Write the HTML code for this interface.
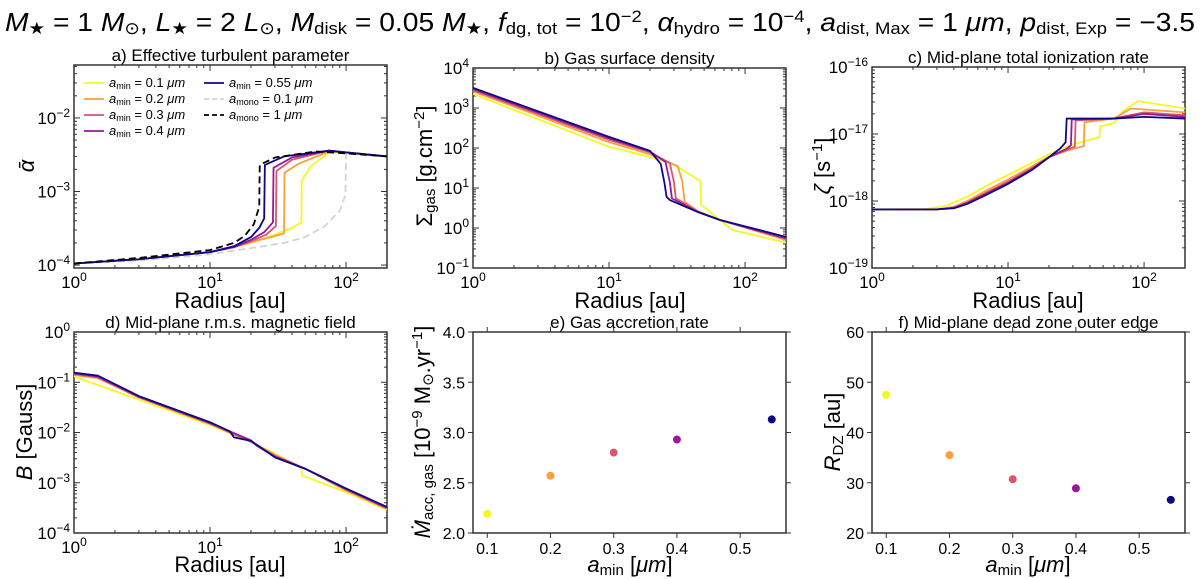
<!DOCTYPE html>
<html><head><meta charset="utf-8">
<style>
html,body{margin:0;padding:0;background:#fff;}
svg{display:block;font-family:"Liberation Sans","DejaVu Sans",sans-serif;}
</style></head>
<body>
<svg id="fig" width="1200" height="579" viewBox="0 0 1200 579" xmlns="http://www.w3.org/2000/svg">
<text x="5" y="31" font-size="26" textLength="1190" lengthAdjust="spacingAndGlyphs"><tspan font-style="italic">M</tspan><tspan font-size="17" baseline-shift="-20%">★</tspan> = 1 <tspan font-style="italic">M</tspan><tspan font-size="17" baseline-shift="-20%">⊙</tspan>, <tspan font-style="italic">L</tspan><tspan font-size="17" baseline-shift="-20%">★</tspan> = 2 <tspan font-style="italic">L</tspan><tspan font-size="17" baseline-shift="-20%">⊙</tspan>, <tspan font-style="italic">M</tspan><tspan font-size="17" baseline-shift="-20%">disk</tspan> = 0.05 <tspan font-style="italic">M</tspan><tspan font-size="17" baseline-shift="-20%">★</tspan>, <tspan font-style="italic">f</tspan><tspan font-size="17" baseline-shift="-20%">dg, tot</tspan> = 10<tspan font-size="17" baseline-shift="super">−2</tspan>, <tspan font-style="italic">α</tspan><tspan font-size="17" baseline-shift="-20%">hydro</tspan> = 10<tspan font-size="17" baseline-shift="super">−4</tspan>, <tspan font-style="italic">a</tspan><tspan font-size="17" baseline-shift="-20%">dist, Max</tspan> = 1 <tspan font-style="italic">μm</tspan>, <tspan font-style="italic">p</tspan><tspan font-size="17" baseline-shift="-20%">dist, Exp</tspan> = −3.5</text>
</svg>
<script>
// ---------- data ----------
const seriesNames = ['amin-0.1','amin-0.2','amin-0.3','amin-0.4','amin-0.55'];
const seriesColors = ['#f0f921','#fb9f3a','#d8576b','#9c179e','#0d0887'];
const aminValues = [0.1, 0.2, 0.3, 0.4, 0.55];
const accretionRate = [2.19, 2.57, 2.80, 2.93, 3.13];
const deadZoneEdge = [47.5, 35.5, 30.7, 28.9, 26.6];

// panel a: alpha
const alphaR01 = [1,3,10,15,20,30,40,47,47.2,55,75,100,200];
const alphaV01 = [1.05e-4,1.2e-4,1.5e-4,1.75e-4,2e-4,2.6e-4,3.2e-4,3.8e-4,1.4e-3,2.2e-3,3.4e-3,3.4e-3,3.0e-3];
const alphaR02 = [1,3,10,15,20,28,35,35.3,45,75,100,200];
const alphaV02 = [1.05e-4,1.2e-4,1.5e-4,1.75e-4,2.05e-4,2.4e-4,2.7e-4,1.8e-3,2.4e-3,3.5e-3,3.4e-3,3.0e-3];
const alphaR03 = [1,3,10,15,20,26,30.5,30.8,40,75,100,200];
const alphaV03 = [1.05e-4,1.2e-4,1.5e-4,1.75e-4,2.1e-4,2.6e-4,3.4e-4,1.9e-3,2.7e-3,3.6e-3,3.4e-3,3.0e-3];
const alphaR04 = [1,3,10,15,20,25,29,29.3,40,75,100,200];
const alphaV04 = [1.05e-4,1.2e-4,1.5e-4,1.75e-4,2.2e-4,2.8e-4,3.8e-4,2.1e-3,2.9e-3,3.6e-3,3.4e-3,3.0e-3];
const alphaR055 = [1,3,10,15,20,23,25,25.3,35,75,100,200];
const alphaV055 = [1.05e-4,1.2e-4,1.5e-4,1.8e-4,2.4e-4,3.2e-4,4.3e-4,2.3e-3,3.0e-3,3.6e-3,3.4e-3,3.0e-3];
const alphaRMono1 = [1,3,10,15,18,21,23,23.2,30,60,100,200];
const alphaVMono1 = [1.05e-4,1.25e-4,1.6e-4,2.0e-4,2.5e-4,3.6e-4,6.2e-4,2.3e-3,2.9e-3,3.5e-3,3.3e-3,3.0e-3];
const alphaRMono01 = [1,3,10,20,35,50,70,90,99,100,200];
const alphaVMono01 = [1.05e-4,1.15e-4,1.4e-4,1.7e-4,2.0e-4,2.4e-4,3.4e-4,5.5e-4,9e-4,3.3e-3,3.0e-3];

// panel b: gas surface density
const sigR01 = [1,10,20,30,47,47.5,65,80,200];
const sigV01 = [2240,107,60,38,15,3.8,1.6,0.9,0.43];
const sigR02 = [1,10,20,32,34.5,36,45,65,200];
const sigV02 = [2600,140,70,35,15,4.5,2.6,1.6,0.5];
const sigR03 = [1,10,20,28,30,31,45,65,200];
const sigV03 = [2800,160,78,42,14,5.5,2.6,1.6,0.53];
const sigR04 = [1,10,20,26,28,29,45,65,200];
const sigV04 = [3000,175,82,45,14,5.5,2.5,1.6,0.56];
const sigR055 = [1,10,20,24,25.5,26.5,28,45,65,200];
const sigV055 = [3200,190,85,40,14,6,5,2.5,1.6,0.6];

// panel c: ionization rate
const zetaR01 = [1,2.5,3.5,5,7,10,15,20,30,47,47.5,60,70,90,200];
const zetaV01 = [7.5e-19,7.6e-19,8.5e-19,1.15e-18,1.7e-18,2.45e-18,3.7e-18,5e-18,7e-18,9e-18,1.3e-17,1.45e-17,2.2e-17,3.1e-17,2.4e-17];
const zetaR02 = [1,3,4,5,7,10,15,20,30,36,36.5,60,80,200];
const zetaV02 = [7.5e-19,7.5e-19,8.2e-19,1.0e-18,1.45e-18,2.1e-18,3.3e-18,4.6e-18,6e-18,6.6e-18,1.5e-17,1.7e-17,2.4e-17,2.1e-17];
const zetaR03 = [1,3,4,5,7,10,15,20,28,31,31.4,60,100,200];
const zetaV03 = [7.5e-19,7.5e-19,8e-19,9.5e-19,1.35e-18,1.95e-18,3.1e-18,4.5e-18,6e-18,6.5e-18,1.6e-17,1.7e-17,2.1e-17,1.9e-17];
const zetaR04 = [1,3,4,5,7,10,15,20,27,29,29.4,60,100,200];
const zetaV04 = [7.5e-19,7.5e-19,7.9e-19,9.3e-19,1.3e-18,1.85e-18,3.0e-18,4.5e-18,6e-18,6.8e-18,1.65e-17,1.7e-17,2.0e-17,1.8e-17];
const zetaR055 = [1,3,4,5,7,10,15,20,24,26.5,27,60,100,200];
const zetaV055 = [7.5e-19,7.5e-19,7.8e-19,9e-19,1.25e-18,1.8e-18,2.9e-18,4.5e-18,6e-18,7.5e-18,1.7e-17,1.7e-17,1.8e-17,1.7e-17];

// panel d: magnetic field
const bR01 = [1,3,10,20,30,47,47.5,100,200];
const bV01 = [0.13,0.045,0.014,0.0065,0.0038,0.002,0.0014,6.5e-4,2.9e-4];
const bR02 = [1,1.5,3,10,20,30,50,100,200];
const bV02 = [0.14,0.12,0.05,0.015,0.0065,0.0036,0.0019,7e-4,3.0e-4];
const bR03 = [1,1.5,3,10,20,30,50,100,200];
const bV03 = [0.145,0.125,0.05,0.015,0.0066,0.0034,0.0019,7.3e-4,3.1e-4];
const bR04 = [1,1.5,3,10,20,22,30,50,100,200];
const bV04 = [0.15,0.13,0.052,0.0155,0.007,0.0055,0.0033,0.0019,7.5e-4,3.2e-4];
const bR055 = [1,1.5,3,10,14,15,20,25,30,50,100,200];
const bV055 = [0.155,0.135,0.053,0.016,0.0105,0.008,0.0068,0.0045,0.0032,0.0019,7.7e-4,3.3e-4];

// ---------- helpers ----------
const NS = 'http://www.w3.org/2000/svg';
const svg = document.getElementById('fig');
function mk(tag, attrs, parent){
  const e = document.createElementNS(NS, tag);
  for (const k in attrs) e.setAttribute(k, attrs[k]);
  (parent || svg).appendChild(e);
  return e;
}
function makeAxis(p){
  const fx = p.xLog
    ? v => p.x0 + (Math.log10(v) - Math.log10(p.xmin)) / (Math.log10(p.xmax) - Math.log10(p.xmin)) * (p.x1 - p.x0)
    : v => p.x0 + (v - p.xmin) / (p.xmax - p.xmin) * (p.x1 - p.x0);
  const fy = p.yLog
    ? v => p.y1 - (Math.log10(v) - Math.log10(p.ymin)) / (Math.log10(p.ymax) - Math.log10(p.ymin)) * (p.y1 - p.y0)
    : v => p.y1 - (v - p.ymin) / (p.ymax - p.ymin) * (p.y1 - p.y0);
  return {fx, fy};
}
function supLabel(g, x, y, exp, anchor){
  const t = mk('text', {x:x, y:y, 'font-size':17, 'text-anchor':anchor, fill:'#000'}, g);
  
  
  t.appendChild(document.createTextNode('10'));
  const s = mk('tspan', {'font-size':12, 'baseline-shift':'super'}, t);
  s.textContent = (exp < 0 ? '−' : '') + Math.abs(exp);
  return t;
}
function drawFrame(p, name){
  const g = mk('g', {});
  
  
  const ax = makeAxis(p);
  const tick = (x1,y1,x2,y2)=>{ mk('line',{x1,y1,x2,y2,stroke:'#333','stroke-width':1},g); };
  if (p.xLog){
    for (let d = Math.floor(Math.log10(p.xmin)); d <= Math.ceil(Math.log10(p.xmax)); d++){
      for (let m = 1; m < 10; m++){
        const v = m * Math.pow(10, d);
        if (v < p.xmin - 1e-9 || v > p.xmax + 1e-9) continue;
        const x = ax.fx(v), L = m === 1 ? 6 : 3;
        tick(x, p.y1, x, p.y1 - L); tick(x, p.y0, x, p.y0 + L);
        if (m === 1) supLabel(g, x, p.y1 + 20, d, 'middle');
      }
    }
  } else {
    p.xTicks.forEach(v => {
      const x = ax.fx(v);
      tick(x, p.y1, x, p.y1 + 5); tick(x, p.y0, x, p.y0 - 5);
      const t = mk('text', {x:x, y:p.y1 + 21, 'font-size':16, 'text-anchor':'middle'}, g);
      
      
      t.textContent = v.toFixed(1);
    });
  }
  if (p.yLog){
    for (let d = Math.floor(Math.log10(p.ymin)); d <= Math.ceil(Math.log10(p.ymax)); d++){
      for (let m = 1; m < 10; m++){
        const v = m * Math.pow(10, d);
        if (v < p.ymin * 0.999 || v > p.ymax * 1.001) continue;
        const y = ax.fy(v), L = m === 1 ? 6 : 3;
        tick(p.x0, y, p.x0 + L, y); tick(p.x1, y, p.x1 - L, y);
        if (m === 1) supLabel(g, p.x0 - 4, y + 6, d, 'end');
      }
    }
  } else {
    p.yTicks.forEach(v => {
      const y = ax.fy(v);
      tick(p.x0, y, p.x0 - 5, y); tick(p.x1, y, p.x1 + 5, y);
      const t = mk('text', {x:p.x0 - 8, y:y + 6, 'font-size':16, 'text-anchor':'end'}, g);
      
      
      t.textContent = p.yFmt(v);
    });
  }
  const r = mk('rect', {x:p.x0, y:p.y0, width:p.x1 - p.x0, height:p.y1 - p.y0, fill:'none', stroke:'#333', 'stroke-width':1.5}, g);
  
  
  const tt = mk('text', {x:(p.x0 + p.x1) / 2, y:p.y0 - 4, 'font-size':17, 'text-anchor':'middle'}, g);
  
  
  tt.textContent = p.title;
  return {g, ax};
}
function drawLine(p, ax, g, R, V, color, dash, name){
  let d = '';
  R.forEach((r, i) => { d += (i ? 'L' : 'M') + ax.fx(r).toFixed(2) + ',' + ax.fy(V[i]).toFixed(2); });
  const path = mk('path', {d, fill:'none', stroke:color, 'stroke-width':1.8, 'stroke-linejoin':'round', 'clip-path':'url(#clip-' + p.id + ')'}, g);
  if (dash) path.setAttribute('stroke-dasharray', dash);
  
  
}
function addClip(p){
  let defs = svg.querySelector('defs') || mk('defs', {});
  const c = mk('clipPath', {id:'clip-' + p.id}, defs);
  mk('rect', {x:p.x0, y:p.y0, width:p.x1 - p.x0, height:p.y1 - p.y0}, c);
}
function yLabel(x, y, parts, name){
  const t = mk('text', {x:0, y:0, 'font-size':22, 'text-anchor':'middle', transform:'translate(' + x + ',' + y + ') rotate(-90)'});
  
  
  parts.forEach(pt => {
    const s = mk('tspan', {}, t);
    if (pt.it) s.setAttribute('font-style', 'italic');
    if (pt.sub){ s.setAttribute('font-size', 15); s.setAttribute('baseline-shift', '-20%'); }
    if (pt.sup){ s.setAttribute('font-size', 15); s.setAttribute('baseline-shift', 'super'); }
    s.textContent = pt.t;
  });
}
function xLabel(x, y, parts, name){
  const t = mk('text', {x:x, y:y, 'font-size':22, 'text-anchor':'middle'});
  
  
  parts.forEach(pt => {
    const s = mk('tspan', {}, t);
    if (pt.it) s.setAttribute('font-style', 'italic');
    if (pt.sub){ s.setAttribute('font-size', 15); s.setAttribute('baseline-shift', '-20%'); }
    s.textContent = pt.t;
  });
}

// ---------- panels ----------
const logX = {xLog:true, xmin:1, xmax:200};
const pa = Object.assign({id:'a', x0:74, x1:387, y0:65, y1:268, yLog:true, ymin:Math.pow(10,-4.04), ymax:Math.pow(10,-1.28), title:'a) Effective turbulent parameter'}, logX);
const pb = Object.assign({id:'b', x0:473, x1:786, y0:68, y1:268, yLog:true, ymin:0.1, ymax:1e4, title:'b) Gas surface density'}, logX);
const pc = Object.assign({id:'c', x0:872, x1:1185, y0:67, y1:268, yLog:true, ymin:1e-19, ymax:1e-16, title:'c) Mid-plane total ionization rate'}, logX);
const pd = Object.assign({id:'d', x0:74, x1:387, y0:332, y1:533, yLog:true, ymin:1e-4, ymax:1, title:'d) Mid-plane r.m.s. magnetic field'}, logX);
const pe = {id:'e', x0:473, x1:786, y0:332, y1:533, xLog:false, xmin:0.0775, xmax:0.5725, yLog:false, ymin:2, ymax:4, xTicks:[0.1,0.2,0.3,0.4,0.5], yTicks:[2,2.5,3,3.5,4], yFmt:v=>v.toFixed(1), title:'e) Gas accretion rate'};
const pf = {id:'f', x0:872, x1:1185, y0:332, y1:533, xLog:false, xmin:0.0775, xmax:0.5725, yLog:false, ymin:20, ymax:60, xTicks:[0.1,0.2,0.3,0.4,0.5], yTicks:[20,30,40,50,60], yFmt:v=>String(v), title:'f) Mid-plane dead zone outer edge'};
[pa,pb,pc,pd,pe,pf].forEach(addClip);

let A = drawFrame(pa, 'panel-a-alpha');
drawLine(pa, A.ax, A.g, alphaRMono01, alphaVMono01, '#d3d3d3', '7,4', 'line-amono-0.1');
[[alphaR01,alphaV01],[alphaR02,alphaV02],[alphaR03,alphaV03],[alphaR04,alphaV04],[alphaR055,alphaV055]].forEach((s,i)=>drawLine(pa, A.ax, A.g, s[0], s[1], seriesColors[i], null, 'line-' + seriesNames[i]));
drawLine(pa, A.ax, A.g, alphaRMono1, alphaVMono1, '#000', '7,4', 'line-amono-1');
const legend = mk('g', {});


const legItems = [
  {x:84, y:83, c:seriesColors[0], d:null, s:'min', v:'0.1'},
  {x:84, y:99, c:seriesColors[1], d:null, s:'min', v:'0.2'},
  {x:84, y:115, c:seriesColors[2], d:null, s:'min', v:'0.3'},
  {x:84, y:131, c:seriesColors[3], d:null, s:'min', v:'0.4'},
  {x:204, y:83, c:seriesColors[4], d:null, s:'min', v:'0.55'},
  {x:204, y:99, c:'#d3d3d3', d:'5,3', s:'mono', v:'0.1'},
  {x:204, y:115, c:'#000', d:'5,3', s:'mono', v:'1'}
];
legItems.forEach(it => {
  const e = mk('g', {}, legend);
  
  
  const l = mk('line', {x1:it.x, y1:it.y, x2:it.x + 20, y2:it.y, stroke:it.c, 'stroke-width':1.8}, e);
  if (it.d) l.setAttribute('stroke-dasharray', it.d);
  const t = mk('text', {x:it.x + 25, y:it.y + 4, 'font-size':13}, e);
  const a = mk('tspan', {'font-style':'italic'}, t); a.textContent = 'a';
  const b = mk('tspan', {'font-size':9, 'baseline-shift':'-20%'}, t); b.textContent = it.s;
  const c = mk('tspan', {}, t); c.textContent = ' = ' + it.v + ' ';
  const m = mk('tspan', {'font-style':'italic'}, t); m.textContent = 'μm';
});

let B = drawFrame(pb, 'panel-b-sigma');
[[sigR01,sigV01],[sigR02,sigV02],[sigR03,sigV03],[sigR04,sigV04],[sigR055,sigV055]].forEach((s,i)=>drawLine(pb, B.ax, B.g, s[0], s[1], seriesColors[i], null, 'line-' + seriesNames[i]));
let C = drawFrame(pc, 'panel-c-zeta');
[[zetaR01,zetaV01],[zetaR02,zetaV02],[zetaR03,zetaV03],[zetaR04,zetaV04],[zetaR055,zetaV055]].forEach((s,i)=>drawLine(pc, C.ax, C.g, s[0], s[1], seriesColors[i], null, 'line-' + seriesNames[i]));
let D = drawFrame(pd, 'panel-d-bfield');
[[bR01,bV01],[bR02,bV02],[bR03,bV03],[bR04,bV04],[bR055,bV055]].forEach((s,i)=>drawLine(pd, D.ax, D.g, s[0], s[1], seriesColors[i], null, 'line-' + seriesNames[i]));
let E = drawFrame(pe, 'panel-e-accretion');
aminValues.forEach((a, i) => {
  const c = mk('circle', {cx:E.ax.fx(a), cy:E.ax.fy(accretionRate[i]), r:4, fill:seriesColors[i]}, E.g);
  
  
});
let F = drawFrame(pf, 'panel-f-deadzone');
aminValues.forEach((a, i) => {
  const c = mk('circle', {cx:F.ax.fx(a), cy:F.ax.fy(deadZoneEdge[i]), r:4, fill:seriesColors[i]}, F.g);
  
  
});

const radius = [{t:'Radius [au]'}];
xLabel(230, 308, radius, 'x-axis-title-a');
xLabel(630, 308, radius, 'x-axis-title-b');
xLabel(1028, 308, radius, 'x-axis-title-c');
xLabel(230, 572, radius, 'x-axis-title-d');
const amin = [{t:'a', it:true},{t:'min', sub:true},{t:' ['},{t:'μm', it:true},{t:']'}];
xLabel(630, 572, amin, 'x-axis-title-e');
xLabel(1028, 572, amin, 'x-axis-title-f');
yLabel(34, 166, [{t:'ᾱ', it:true}], 'y-axis-title-a');
yLabel(432, 166, [{t:'Σ'},{t:'gas', sub:true},{t:' [g.cm'},{t:'−2', sup:true},{t:']'}], 'y-axis-title-b');
yLabel(830, 166, [{t:'ζ', it:true},{t:' [s'},{t:'−1', sup:true},{t:']'}], 'y-axis-title-c');
yLabel(32, 432, [{t:'B', it:true},{t:' [Gauss]'}], 'y-axis-title-d');
yLabel(430, 432, [{t:'Ṁ', it:true},{t:'acc, gas', sub:true},{t:' [10'},{t:'−9', sup:true},{t:' M'},{t:'⊙', sub:true},{t:'.yr'},{t:'−1', sup:true},{t:']'}], 'y-axis-title-e');
yLabel(840, 432, [{t:'R', it:true},{t:'DZ', sub:true},{t:' [au]'}], 'y-axis-title-f');
</script>
</body></html>
